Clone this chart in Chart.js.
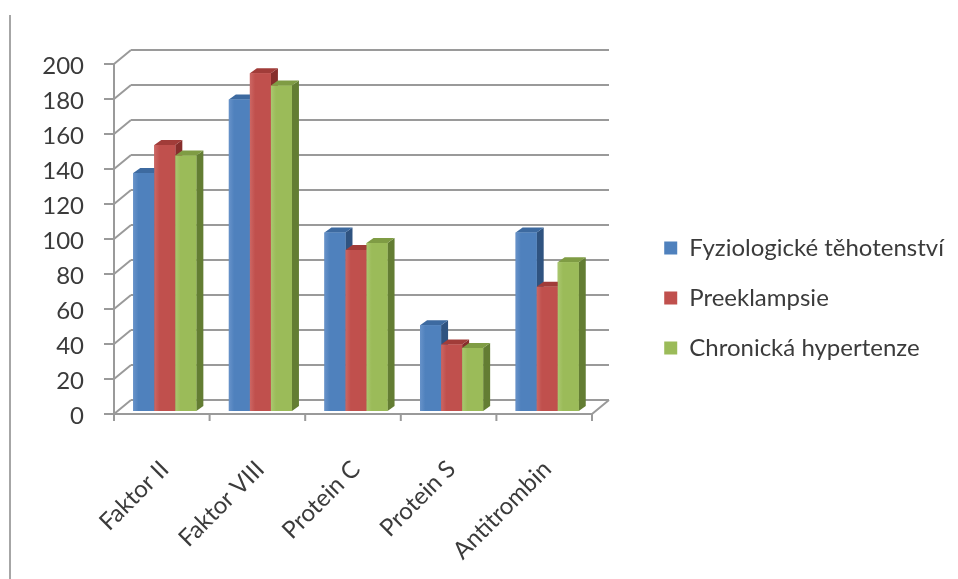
<!DOCTYPE html>
<html>
<head>
<meta charset="utf-8">
<script src="https://cdn.jsdelivr.net/npm/chart.js@4/dist/chart.umd.min.js"></script>
<style>
  html, body { margin: 0; padding: 0; background: #ffffff; }
  #wrap { position: relative; width: 958px; height: 579px; overflow: hidden; }
  #wrap canvas { position: absolute; left: 0; top: 0; }
  #frame { position: absolute; left: 9px; top: 15px; height: 564px; border-left: 2px solid #a6a6a6; }
</style>
</head>
<body>
<div id="wrap">
  <canvas id="chart" width="958" height="579"></canvas>
  <div id="frame"></div>
</div>
<script>
// Categories and series values
const categories = ['Faktor II', 'Faktor VIII', 'Protein C', 'Protein S', 'Antitrombin'];
const fyziologicke = [136, 178, 102, 49, 102];
const preeklampsie = [152, 193, 92, 38, 71];
const chronicka = [146, 186, 96, 36, 85];
const seriesNames = ['Fyziologické těhotenství', 'Preeklampsie', 'Chronická hypertenze'];
// Value axis ticks
const yMin = 0;
const yMax = 200;
const yStep = 20;

// Face colours for each series: front, top, side
const palette = [
  { front: '#4f81bd', light: '#6792c9', top: '#3d6aa0', side: '#2f5380' },
  { front: '#c0504d', light: '#cc6764', top: '#a13c39', side: '#862e2c' },
  { front: '#9bbb59', light: '#aac76f', top: '#7f9c44', side: '#637d33' }
];

// Plot box: the bars stand between these edges
const PLOT_RIGHT = 595;
const PLOT_TOP = 61;
const PLOT_BOTTOM = 411;
const PAD_TOP = 17;
const PAD_RIGHT = 4;

// Offsets of the front and back planes of the 3D box relative to the bar plane
const FRONT = { dx: -3, dy: 3 };
const BACK = { dx: 14, dy: -11 };
const DEPTH = { dx: 7, dy: -5 };
const GRID = '#9a9a9a';
const FONT = 'Lato, "Open Sans", sans-serif';
const TEXT = '#3b3b3b';

const box3d = {
  id: 'box3d',
  beforeDatasetsDraw(chart) {
    const { ctx, chartArea: a, scales } = chart;
    const y = scales.y;
    ctx.save();
    ctx.strokeStyle = GRID;
    ctx.lineWidth = 2;
    ctx.lineCap = 'butt';
    const fx0 = a.left + FRONT.dx, fx1 = a.right + FRONT.dx;
    const bx0 = a.left + BACK.dx, bx1 = a.right + BACK.dx;
    // back wall grid lines with their links to the front value axis
    for (let v = yMin; v <= yMax; v += yStep) {
      const p = y.getPixelForValue(v);
      const yf = p + FRONT.dy, yb = p + BACK.dy;
      ctx.beginPath();
      ctx.moveTo(bx0, yb); ctx.lineTo(bx1, yb);
      ctx.moveTo(fx0, yf); ctx.lineTo(bx0, yb);
      ctx.moveTo(fx0 - 10, yf); ctx.lineTo(fx0, yf);
      ctx.stroke();
    }
    // front value axis
    const yTop = y.getPixelForValue(yMax) + FRONT.dy;
    const yBot = y.getPixelForValue(yMin) + FRONT.dy;
    ctx.beginPath();
    ctx.moveTo(fx0, yTop); ctx.lineTo(fx0, yBot);
    // floor edge and its right side
    ctx.moveTo(fx0, yBot); ctx.lineTo(fx1, yBot);
    ctx.lineTo(bx1, y.getPixelForValue(yMin) + BACK.dy);
    ctx.stroke();
    // category boundary ticks
    const n = categories.length;
    ctx.beginPath();
    for (let i = 0; i <= n; i++) {
      const x = fx0 + (fx1 - fx0) * i / n;
      ctx.moveTo(x, yBot); ctx.lineTo(x, yBot + 7);
    }
    ctx.stroke();
    ctx.restore();
  },
  afterDatasetsDraw(chart) {
    const { ctx } = chart;
    ctx.save();
    chart.data.datasets.forEach((ds, i) => {
      const meta = chart.getDatasetMeta(i);
      const c = palette[i];
      meta.data.forEach(bar => {
        const { x, y, base, width } = bar.getProps(['x', 'y', 'base', 'width'], true);
        const l = x - width / 2, r = x + width / 2;
        // side face
        ctx.fillStyle = c.side;
        ctx.beginPath();
        ctx.moveTo(r, y); ctx.lineTo(r + DEPTH.dx, y + DEPTH.dy);
        ctx.lineTo(r + DEPTH.dx, base + DEPTH.dy); ctx.lineTo(r, base);
        ctx.closePath(); ctx.fill();
        // top face
        ctx.fillStyle = c.top;
        ctx.beginPath();
        ctx.moveTo(l, y); ctx.lineTo(l + DEPTH.dx, y + DEPTH.dy);
        ctx.lineTo(r + DEPTH.dx, y + DEPTH.dy); ctx.lineTo(r, y);
        ctx.closePath(); ctx.fill();
        // front face
        const g = ctx.createLinearGradient(l, 0, r, 0);
        g.addColorStop(0, c.light);
        g.addColorStop(0.25, c.front);
        g.addColorStop(1, c.front);
        ctx.fillStyle = g;
        ctx.fillRect(l, y, width, base - y);
      });
    });
    ctx.restore();
  }
};

const datasets = [fyziologicke, preeklampsie, chronicka].map((values, i) => ({
  label: seriesNames[i],
  data: values,
  backgroundColor: palette[i].front,
  borderWidth: 0,
  categoryPercentage: 0.66,
  barPercentage: 1.0
}));

new Chart(document.getElementById('chart'), {
  type: 'bar',
  data: { labels: categories, datasets },
  plugins: [box3d],
  options: {
    responsive: false,
    animation: false,
    layout: { padding: { top: PAD_TOP, left: 0, right: PAD_RIGHT, bottom: 0 } },
    plugins: {
      legend: {
        position: 'right',
        maxWidth: 420,
        labels: {
          boxWidth: 13,
          boxHeight: 13,
          padding: 26,
          color: TEXT,
          font: { family: FONT, size: 24 }
        }
      },
      tooltip: { enabled: false }
    },
    scales: {
      x: {
        grid: { display: false },
        border: { display: false },
        ticks: {
          minRotation: 45,
          maxRotation: 45,
          padding: 36,
          color: TEXT,
          font: { family: FONT, size: 24 }
        },
        afterFit: s => { s.height = s.chart.height - PLOT_BOTTOM; }
      },
      xTop: {
        position: 'top',
        grid: { display: false },
        border: { display: false },
        ticks: { display: false },
        afterFit: s => { s.height = PLOT_TOP - PAD_TOP; }
      },
      y: {
        min: yMin,
        max: yMax,
        grid: { display: false },
        border: { display: false },
        ticks: {
          stepSize: yStep,
          padding: 25,
          labelOffset: 5,
          color: TEXT,
          font: { family: FONT, size: 24 }
        },
        afterFit: s => { s.width = 117; }
      },
      yRight: {
        position: 'right',
        grid: { display: false },
        border: { display: false },
        ticks: { display: false },
        afterFit: s => {
          const lg = s.chart.legend ? s.chart.legend.width : 0;
          s.width = Math.max(0, s.chart.width - PAD_RIGHT - lg - PLOT_RIGHT);
        }
      }
    }
  }
});
</script>
</body>
</html>
